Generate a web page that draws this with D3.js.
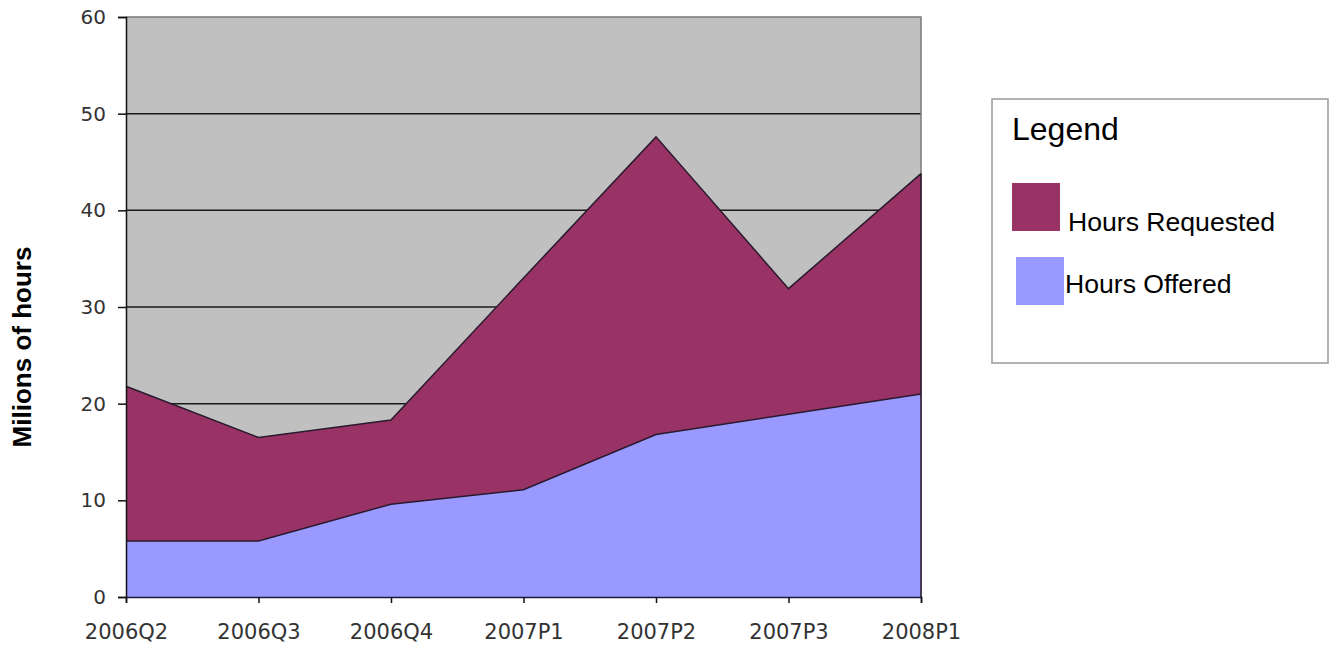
<!DOCTYPE html>
<html>
<head>
<meta charset="utf-8">
<script src="https://cdn.jsdelivr.net/npm/d3@7"></script>
<style>
  html, body { margin: 0; padding: 0; background: #ffffff; }
  svg { display: block; }
</style>
</head>
<body>
<svg id="chart" width="1334" height="646"></svg>
<script>
const categories = ["2006Q2", "2006Q3", "2006Q4", "2007P1", "2007P2", "2007P3", "2008P1"];
const hoursRequested = [21.8, 16.5, 18.3, 33.0, 47.6, 31.9, 43.8];
const hoursOffered = [5.8, 5.8, 9.6, 11.1, 16.8, 18.9, 21.0];
const yTicks = [0, 10, 20, 30, 40, 50, 60];
const seriesNames = ["Hours Requested", "Hours Offered"];
const seriesColors = ["#993366", "#9999ff"];

const svg = d3.select("#chart");
const pLeft = 126, pRight = 921, pTop = 17, pBottom = 597;

const x = d3.scalePoint().domain(categories).range([pLeft, pRight]);
const y = d3.scaleLinear().domain([0, 60]).range([pBottom, pTop]);

// plot background
svg.append("rect")
  .attr("x", pLeft).attr("y", pTop)
  .attr("width", pRight - pLeft).attr("height", pBottom - pTop)
  .attr("fill", "#c0c0c0");

// gridlines
svg.append("g").selectAll("line")
  .data(yTicks.filter(d => d > 0 && d < 60))
  .join("line")
  .attr("x1", pLeft).attr("x2", pRight)
  .attr("y1", d => y(d)).attr("y2", d => y(d))
  .attr("stroke", "#1a1a1a").attr("stroke-width", 1.5);

// plot border (top & right)
svg.append("path")
  .attr("d", `M${pLeft},${y(60)}H${pRight}V${pBottom}`)
  .attr("fill", "none").attr("stroke", "#7a7a7a").attr("stroke-width", 1.5);

const areaGen = d3.area()
  .x((d, i) => x(categories[i]))
  .y0(y(0))
  .y1(d => y(d));

const lineGen = d3.line()
  .x((d, i) => x(categories[i]))
  .y(d => y(d));

[hoursRequested, hoursOffered].forEach((vals, k) => {
  svg.append("path")
    .attr("d", areaGen(vals))
    .attr("fill", seriesColors[k]);
  svg.append("path")
    .attr("d", lineGen(vals))
    .attr("fill", "none")
    .attr("stroke", "#2a1a2e").attr("stroke-width", 1.5);
});

// right edge of areas
svg.append("line")
  .attr("x1", pRight).attr("x2", pRight)
  .attr("y1", y(hoursRequested[hoursRequested.length - 1])).attr("y2", pBottom)
  .attr("stroke", "#2a1a2e").attr("stroke-width", 1.5);

// axes
const yAxis = d3.axisLeft(y).tickValues(yTicks).tickSize(8).tickPadding(12).tickFormat(d3.format("d"));
const gy = svg.append("g").attr("transform", `translate(${pLeft},0)`).call(yAxis);
gy.select(".domain").attr("stroke", "#111").attr("stroke-width", 1.5);
gy.selectAll(".tick line").attr("stroke", "#111").attr("stroke-width", 1.5);
gy.selectAll(".tick text")
  .attr("font-family", "DejaVu Sans, Verdana, sans-serif")
  .attr("font-size", 20).attr("fill", "#333");

const xAxis = d3.axisBottom(x).tickSize(6).tickPadding(21);
const gx = svg.append("g").attr("transform", `translate(0,${pBottom})`).call(xAxis);
gx.select(".domain").attr("stroke", "#1a1a3a").attr("stroke-width", 1.5);
gx.selectAll(".tick line").attr("stroke", "#111").attr("stroke-width", 1.5);
gx.selectAll(".tick text")
  .attr("font-family", "DejaVu Sans, Verdana, sans-serif")
  .attr("font-size", 21).attr("fill", "#333");

// y-axis title
svg.append("text")
  .attr("transform", `translate(31,347) rotate(-90)`)
  .attr("text-anchor", "middle")
  .attr("font-family", "Liberation Sans, Arial, sans-serif")
  .attr("font-weight", "bold")
  .attr("font-size", 26)
  .attr("fill", "#000")
  .text("Milions of hours");

// legend
const lg = svg.append("g");
lg.append("rect")
  .attr("x", 992).attr("y", 99).attr("width", 336).attr("height", 264)
  .attr("fill", "#fff").attr("stroke", "#9a9a9a").attr("stroke-width", 1.5);
lg.append("text")
  .attr("x", 1012).attr("y", 140)
  .attr("font-family", "Liberation Sans, Arial, sans-serif")
  .attr("font-size", 32).attr("fill", "#000")
  .text("Legend");

const legendItems = [
  { name: seriesNames[0], color: seriesColors[0], sx: 1012, sy: 183, tx: 1068, ty: 231 },
  { name: seriesNames[1], color: seriesColors[1], sx: 1016, sy: 257, tx: 1065, ty: 293 }
];
legendItems.forEach(it => {
  lg.append("rect").attr("x", it.sx).attr("y", it.sy).attr("width", 48).attr("height", 48).attr("fill", it.color);
  lg.append("text").attr("x", it.tx).attr("y", it.ty)
    .attr("font-family", "Liberation Sans, Arial, sans-serif")
    .attr("font-size", 26.6).attr("fill", "#000")
    .text(it.name);
});
</script>
</body>
</html>
